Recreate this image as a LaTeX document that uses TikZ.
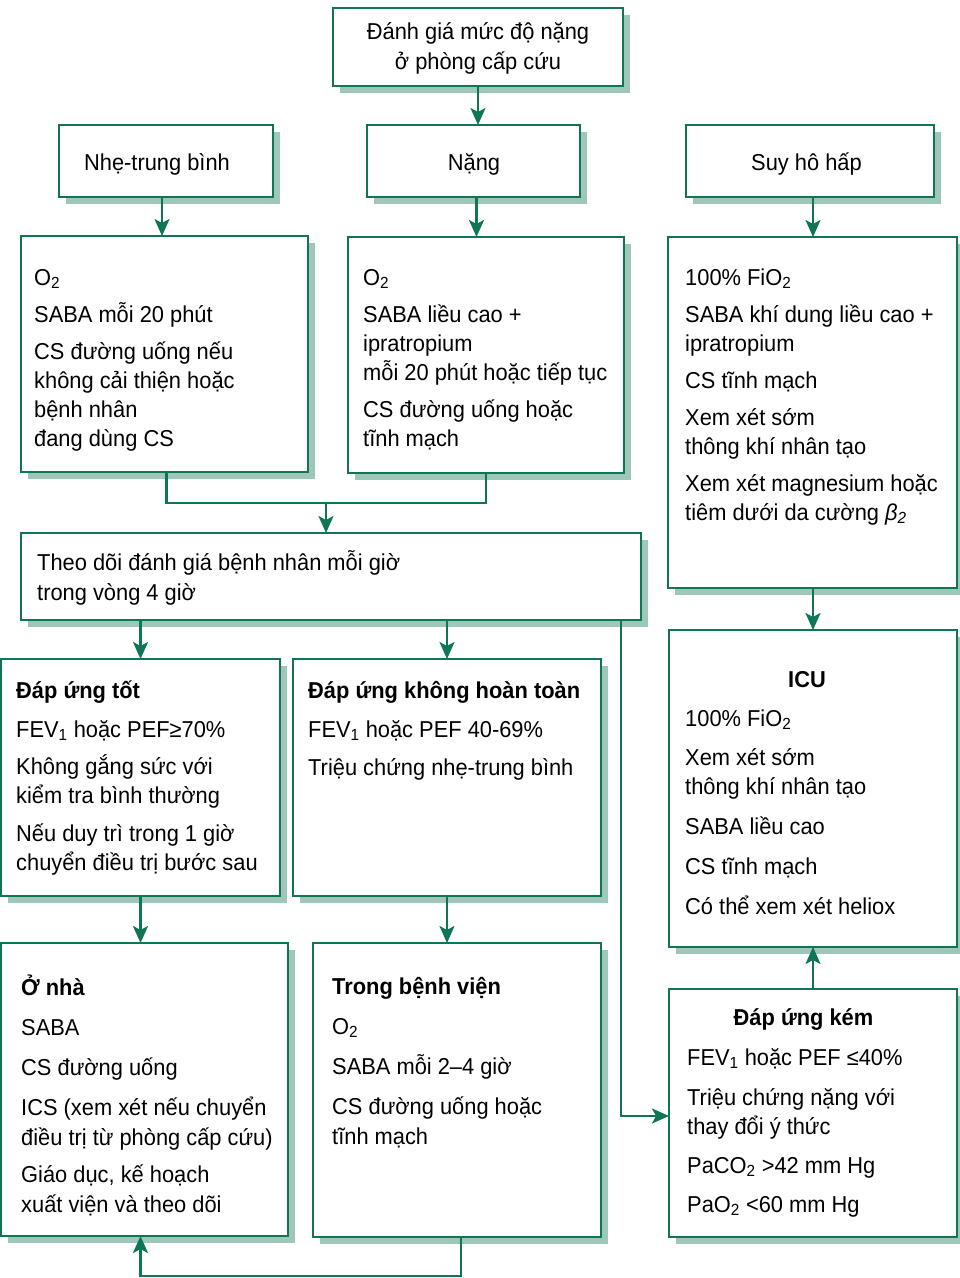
\documentclass[tikz,border=0pt]{standalone}
\usepackage{fontspec}
\setmainfont[FakeStretch=0.95]{Liberation Sans}
\usetikzlibrary{arrows.meta,shadows}

\definecolor{edge}{RGB}{14,117,86}
\definecolor{shade}{RGB}{158,199,184}

% body text: 29pt or 30pt line pitch, first baseline fixed by a strut
\newcommand\bodyfont{\fontsize{23pt}{29pt}\selectfont\lineskiplimit=-40pt\relax}
\newcommand\loosefont{\fontsize{23pt}{30pt}\selectfont\lineskiplimit=-40pt\relax}
\newcommand\firstline{\rule{0pt}{25pt}}

\begin{document}
\begin{tikzpicture}[x=1pt,y=-1pt,
  panel/.style={draw=edge, line width=2.5pt, fill=white, inner sep=0pt, outer sep=0pt,
    anchor=north west,
    drop shadow={shadow xshift=7pt, shadow yshift=-7pt, fill=shade, opacity=1}},
  body/.style={anchor=north west, inner sep=0pt, align=left, font=\bodyfont},
  loosebody/.style={body, font=\loosefont},
  lbl/.style={anchor=base, inner sep=0pt, font=\bodyfont},
  link/.style={draw=edge, line width=2.5pt},
  arr/.style={link, -{Stealth[length=17pt,width=15pt,inset=4pt]}}]

\useasboundingbox (0,0) rectangle (960,1278);

% ---- boxes ----
\node[panel, minimum width=290pt, minimum height=78pt]  (top)        at (333,8)   {};
\node[panel, minimum width=214pt, minimum height=72pt]  (mild)       at (59,125)  {};
\node[panel, minimum width=213pt, minimum height=72pt]  (severe)     at (367,125) {};
\node[panel, minimum width=248pt, minimum height=72pt]  (resp)       at (686,125) {};
\node[panel, minimum width=287pt, minimum height=236pt] (mildtx)     at (21,236)  {};
\node[panel, minimum width=276pt, minimum height=236pt] (sevtx)      at (348,237) {};
\node[panel, minimum width=289pt, minimum height=351pt] (resptx)     at (668,237) {};
\node[panel, minimum width=620pt, minimum height=87pt]  (monitor)    at (21,533)  {};
\node[panel, minimum width=279pt, minimum height=237pt] (good)       at (1,659)   {};
\node[panel, minimum width=308pt, minimum height=237pt] (incomplete) at (293,659) {};
\node[panel, minimum width=288pt, minimum height=317pt] (icu)        at (669,630) {};
\node[panel, minimum width=287pt, minimum height=293pt] (home)       at (1,943)   {};
\node[panel, minimum width=288pt, minimum height=294pt] (hosp)       at (313,943) {};
\node[panel, minimum width=288pt, minimum height=248pt] (poor)       at (669,989) {};

% ---- texts ----
\node[loosebody, anchor=north, align=center] (top-t) at (478,14)
  {\firstline Đánh giá mức độ nặng\\ở phòng cấp cứu};

\node[lbl] (mild-t)   at (157,170)   {Nhẹ-trung bình};
\node[lbl] (severe-t) at (474,170)   {Nặng};
\node[lbl] (resp-t)   at (806.5,170) {Suy hô hấp};

\node[body] (mildtx-t) at (34,260)
  {\firstline O\textsubscript{2}\\[8pt]
   SABA mỗi 20 phút\\[8pt]
   CS đường uống nếu\\không cải thiện hoặc\\bệnh nhân\\đang dùng CS};

\node[body] (sevtx-t) at (363,260)
  {\firstline O\textsubscript{2}\\[8pt]
   SABA liều cao +\\ipratropium\\mỗi 20 phút hoặc tiếp tục\\[8pt]
   CS đường uống hoặc\\tĩnh mạch};

\node[body] (resptx-t) at (685,260)
  {\firstline 100\% FiO\textsubscript{2}\\[8pt]
   SABA khí dung liều cao +\\ipratropium\\[8pt]
   CS tĩnh mạch\\[8pt]
   Xem xét sớm\\thông khí nhân tạo\\[8pt]
   Xem xét magnesium hoặc\\tiêm dưới da cường \textit{β\textsubscript{2}}};

\node[loosebody] (monitor-t) at (37,545)
  {\firstline Theo dõi đánh giá bệnh nhân mỗi giờ\\trong vòng 4 giờ};

\node[body] (good-t) at (16,673)
  {\firstline\textbf{Đáp ứng tốt}\\[10pt]
   FEV\textsubscript{1} hoặc PEF≥70\%\\[8pt]
   Không gắng sức với\\kiểm tra bình thường\\[9pt]
   Nếu duy trì trong 1 giờ\\chuyển điều trị bước sau};

\node[body] (incomplete-t) at (308,673)
  {\firstline\textbf{Đáp ứng không hoàn toàn}\\[10pt]
   FEV\textsubscript{1} hoặc PEF 40-69\%\\[9pt]
   Triệu chứng nhẹ-trung bình};

\node[loosebody] (home-t) at (21,970)
  {\firstline\textbf{Ở nhà}\\[10pt]
   SABA\\[10pt]
   CS đường uống\\[10pt]
   ICS (xem xét nếu chuyển\\điều trị từ phòng cấp cứu)\\[7pt]
   Giáo dục, kế hoạch\\xuất viện và theo dõi};

\node[loosebody] (hosp-t) at (332,969)
  {\firstline\textbf{Trong bệnh viện}\\[10pt]
   O\textsubscript{2}\\[10pt]
   SABA mỗi 2–4 giờ\\[10pt]
   CS đường uống hoặc\\tĩnh mạch};

\node[lbl] (icu-h) at (807,687) {\textbf{ICU}};
\node[body] (icu-t) at (685,701)
  {\firstline 100\% FiO\textsubscript{2}\\[10pt]
   Xem xét sớm\\thông khí nhân tạo\\[11pt]
   SABA liều cao\\[11pt]
   CS tĩnh mạch\\[11pt]
   Có thể xem xét heliox};

\node[lbl] (poor-h) at (803.5,1025) {\textbf{Đáp ứng kém}};
\node[body] (poor-t) at (687,1040)
  {\firstline FEV\textsubscript{1} hoặc PEF ≤40\%\\[11pt]
   Triệu chứng nặng với\\thay đổi ý thức\\[10pt]
   PaCO\textsubscript{2} >42 mm Hg\\[10pt]
   PaO\textsubscript{2} <60 mm Hg};

% ---- connectors ----
\coordinate (merge) at (326,503);

\draw[arr] (top.south) -- (top.south |- severe.north);
\draw[arr] ([xshift=-4pt]mild.south) -- ([xshift=-4pt]mild.south |- mildtx.north);
\draw[arr] ([xshift=3pt]severe.south) -- ([xshift=3pt]severe.south |- sevtx.north);
\draw[arr] ([xshift=3pt]resp.south) -- ([xshift=3pt]resp.south |- resptx.north);

\draw[link] ([xshift=2pt]mildtx.south) |- (merge) -| (sevtx.south);
\draw[arr] (merge) -- (merge |- monitor.north);

\draw[arr] (good.north |- monitor.south) -- (good.north);
\draw[arr] (incomplete.north |- monitor.south) -- (incomplete.north);
\draw[arr] ([xshift=-20pt]monitor.south east) |- ([yshift=-3pt]poor.west);

\draw[arr] (icu.north |- resptx.south) -- (icu.north);
\draw[arr] (poor.north) -- (icu.south);

\draw[arr] (good.south) -- (good.south |- home.north);
\draw[arr] (incomplete.south) -- (incomplete.south |- hosp.north);
\draw[arr] ([xshift=4pt]hosp.south) -- ++(0,39) -| ([xshift=-4pt]home.south);

\end{tikzpicture}
\end{document}
